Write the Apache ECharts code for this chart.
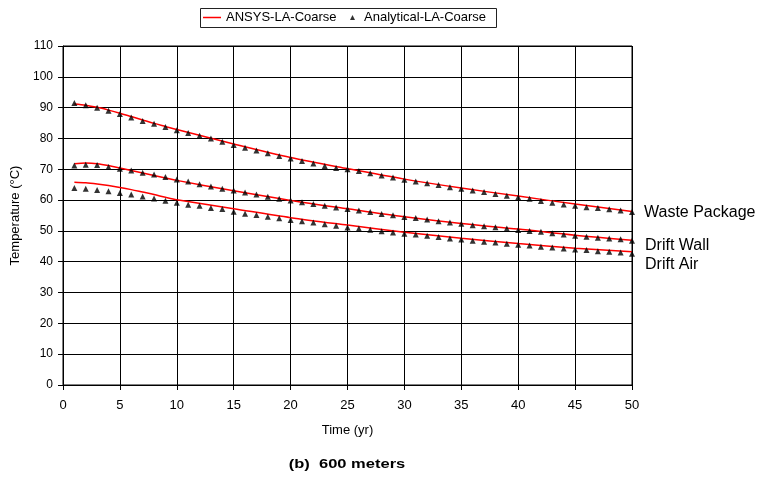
<!DOCTYPE html>
<html>
<head>
<meta charset="utf-8">
<script src="https://cdn.jsdelivr.net/npm/echarts@6/dist/echarts.min.js"></script>
<style>html,body{margin:0;padding:0;background:#fff;}#c{width:763px;height:477px;}</style>
</head>
<body>
<div id="c"></div>
<script>
// Analytical points, t = 1..50 yr
const years = [1,2,3,4,5,6,7,8,9,10,11,12,13,14,15,16,17,18,19,20,21,22,23,24,25,26,27,28,29,30,31,32,33,34,35,36,37,38,39,40,41,42,43,44,45,46,47,48,49,50];
const anaWastePackage = [91.5,90.8,90.0,89.0,87.9,86.8,85.7,84.8,83.7,82.7,81.8,80.9,80.0,78.9,77.9,77.0,76.1,75.2,74.3,73.5,72.7,71.9,71.1,70.4,70.0,69.4,68.7,68.0,67.3,66.6,66.0,65.5,64.9,64.2,63.7,63.1,62.6,62.0,61.4,60.9,60.4,59.7,59.1,58.6,58.2,57.7,57.4,57.0,56.6,56.1];
const anaDriftWall = [71.2,71.5,71.4,70.7,70.2,69.6,68.9,68.3,67.5,66.7,66.0,65.1,64.4,63.7,63.1,62.5,61.8,61.1,60.4,59.9,59.3,58.7,58.2,57.6,57.1,56.6,56.1,55.5,55.1,54.5,54.2,53.7,53.1,52.7,52.3,51.8,51.5,51.2,50.8,50.3,50.0,49.7,49.2,48.8,48.4,48.1,47.8,47.5,47.3,46.8];
const anaDriftAir = [63.9,63.7,63.3,62.9,62.3,61.8,61.2,60.5,59.8,59.1,58.5,58.2,57.4,57.1,56.2,55.6,55.2,54.6,54.1,53.5,53.1,52.7,52.2,51.7,51.1,50.8,50.4,49.9,49.5,49.1,48.8,48.4,48.0,47.5,47.2,46.8,46.5,46.2,45.8,45.5,45.3,44.9,44.6,44.3,44.0,43.8,43.4,43.2,43.0,42.6];
// ANSYS curves
const ansysYears = [1,2,3,4,5,6,7,8,9,10,15,20,25,30,35,40,45,50];
const ansysWastePackage = [91.2,90.8,90.1,89.2,88.2,87.1,86.0,84.9,83.9,82.9,78.2,73.8,70.2,66.8,63.9,61.3,58.7,56.3];
const ansysDriftWall = [71.8,72.0,71.8,71.2,70.4,69.6,68.8,68.0,67.2,66.4,63.0,59.9,57.2,54.6,52.4,50.6,48.6,47.0];
const ansysDriftAir = [65.8,65.6,65.2,64.7,64.1,63.4,62.6,61.8,60.9,60.1,57.2,54.3,51.9,49.6,47.6,45.9,44.4,43.2];
const xTicks = [0,5,10,15,20,25,30,35,40,45,50];
const yTicks = [0,10,20,30,40,50,60,70,80,90,100,110];
const curveLabels = ['Waste Package', 'Drift Wall', 'Drift Air'];

const pair = (xs, ys) => xs.map((x, i) => [x, ys[i]]);
const font = 'Liberation Sans, Arial, sans-serif';
const ansysName = 'ANSYS-LA-Coarse';
const anaName = 'Analytical-LA-Coarse';

function lineSeries(ys) {
  return { name: ansysName, type: 'line', data: pair(ansysYears, ys), symbol: 'none', smooth: 0.3,
    lineStyle: { color: '#ff0000', width: 1.5 }, itemStyle: { color: '#ff0000' }, z: 3 };
}
function scatterSeries(ys) {
  return { name: anaName, type: 'scatter', data: pair(years, ys), symbol: 'triangle', symbolSize: 6,
    itemStyle: { color: '#000' }, z: 4 };
}

const chart = echarts.init(document.getElementById('c'), null, { renderer: 'canvas' });
chart.setOption({
  animation: false,
  backgroundColor: '#fff',
  textStyle: { fontFamily: font },
  legend: [
    {
      left: 203, top: 11, padding: 0,
      data: [{ name: ansysName, icon: 'rect', itemStyle: { color: '#ff0000' } }],
      itemWidth: 18, itemHeight: 1.5,
      textStyle: { fontSize: 13, color: '#000', fontFamily: font }
    },
    {
      left: 350, top: 11, padding: 0,
      data: [{ name: anaName, icon: 'triangle', itemStyle: { color: '#000' } }],
      itemWidth: 5, itemHeight: 5, itemGap: 0,
      textStyle: { fontSize: 13, color: '#000', fontFamily: font, padding: [0, 0, 0, 4] }
    }
  ],
  grid: { left: 63, right: 131, top: 46, bottom: 92, show: true, borderColor: '#000', borderWidth: 1 },
  xAxis: {
    type: 'value', min: xTicks[0], max: xTicks[xTicks.length - 1], interval: 5,
    name: 'Time (yr)', nameLocation: 'middle', nameGap: 39,
    nameTextStyle: { fontSize: 13, color: '#000', fontFamily: font },
    axisLine: { lineStyle: { color: '#000', width: 1 } },
    axisTick: { length: 5, lineStyle: { color: '#000' } },
    axisLabel: { fontSize: 13, color: '#000', margin: 14, fontFamily: font },
    splitLine: { show: true, lineStyle: { color: '#000', width: 1 } }
  },
  yAxis: {
    type: 'value', min: yTicks[0], max: yTicks[yTicks.length - 1], interval: 10,
    name: 'Temperature (°C)', nameLocation: 'middle', nameGap: 38, nameRotate: 90,
    nameTextStyle: { fontSize: 13, color: '#000', fontFamily: font },
    axisLine: { show: true, lineStyle: { color: '#000', width: 1 } },
    axisTick: { show: true, length: 5, lineStyle: { color: '#000' } },
    axisLabel: { fontSize: 12, color: '#000', margin: 10, fontFamily: font },
    splitLine: { show: true, lineStyle: { color: '#000', width: 1 } }
  },
  graphic: [
    { type: 'rect', shape: { x: 200.5, y: 8.5, width: 296, height: 19 }, style: { fill: 'none', stroke: '#222', lineWidth: 1 }, z: 10 },
    { type: 'text', x: 644, y: 213, style: { text: curveLabels[0], font: '16px ' + font, fill: '#000', verticalAlign: 'middle' } },
    { type: 'text', x: 645, y: 245.5, style: { text: curveLabels[1], font: '16px ' + font, fill: '#000', verticalAlign: 'middle' } },
    { type: 'text', x: 645, y: 265, style: { text: curveLabels[2], font: '16px ' + font, fill: '#000', verticalAlign: 'middle' } },
    { type: 'text', x: 347, y: 464.5, scaleX: 1.27, style: { text: '(b)  600 meters', font: 'bold 13px ' + font, fill: '#000', align: 'center', verticalAlign: 'middle' } }
  ],
  series: [
    lineSeries(ansysWastePackage), lineSeries(ansysDriftWall), lineSeries(ansysDriftAir),
    scatterSeries(anaWastePackage), scatterSeries(anaDriftWall), scatterSeries(anaDriftAir)
  ]
});
</script>
</body>
</html>
